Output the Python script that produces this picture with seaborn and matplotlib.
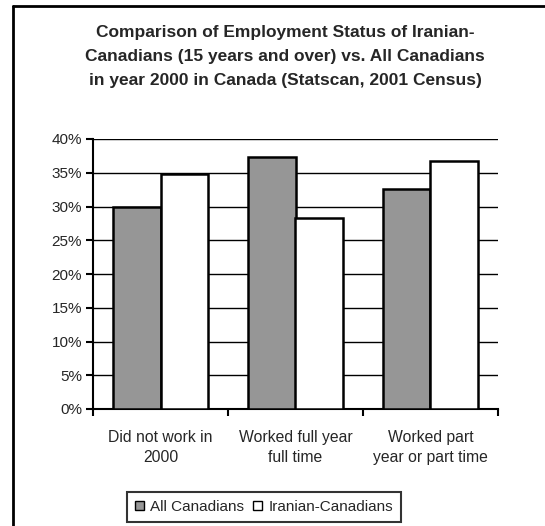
import numpy as np
import pandas as pd
import matplotlib
matplotlib.use("Agg")
import matplotlib.pyplot as plt
import seaborn as sns
from matplotlib.lines import Line2D

# Dados
categorias = ["Did not work in\n2000", "Worked full year\nfull time", "Worked part\nyear or part time"]
todos_canadenses = [30.0, 37.3, 32.6]
irano_canadenses = [34.8, 28.3, 36.7]
grupos = ["All Canadians", "Iranian-Canadians"]

df = pd.DataFrame({
    "categoria": categorias * 2,
    "grupo": [grupos[0]] * 3 + [grupos[1]] * 3,
    "valor": todos_canadenses + irano_canadenses,
})

sns.set_style("white")
plt.rcParams["font.family"] = ["Liberation Sans", "DejaVu Sans"]

fig = plt.figure(figsize=(5.45, 5.26), dpi=100)
ax = fig.add_axes([93 / 545, 1 - 409 / 526, 405 / 545, 270 / 526])

sns.barplot(data=df, x="categoria", y="valor", hue="grupo", ax=ax,
            palette={"All Canadians": "#969696", "Iranian-Canadians": "white"},
            edgecolor="black", linewidth=1.8, width=0.7, legend=False, zorder=3)

ax.set_ylim(0, 40)
ax.set_xlim(-0.5, 2.5)
ax.set_yticks(np.arange(0, 41, 5))
ax.set_yticklabels([f"{v}%" for v in range(0, 41, 5)])
ax.yaxis.grid(True, color="black", linewidth=1.0, zorder=0)
ax.set_axisbelow(True)

ax.set_xticks([-0.5, 0.5, 1.5, 2.5])
ax.set_xticklabels([])
ax.set_xticks([0, 1, 2], minor=True)
ax.set_xticklabels(categorias, minor=True, fontsize=11.3, linespacing=1.4)
ax.tick_params(axis="x", which="major", direction="out", length=5, width=1.5, color="black", bottom=True)
ax.tick_params(axis="x", which="minor", length=0, pad=15)
ax.tick_params(axis="y", direction="out", length=5, width=1.5, color="black", left=True, labelsize=11, pad=3)
ax.set_xlabel("")
ax.set_ylabel("")

for lado in ["top", "right"]:
    ax.spines[lado].set_visible(False)
for lado in ["left", "bottom"]:
    ax.spines[lado].set_color("black")
    ax.spines[lado].set_linewidth(1.5)

fig.text(285 / 545, 1 - 57 / 526,
         "Comparison of Employment Status of Iranian-\nCanadians (15 years and over) vs. All Canadians\nin year 2000 in Canada (Statscan, 2001 Census)",
         ha="center", va="center", fontsize=12.5, fontweight="bold", linespacing=1.75)

# Legenda
handles = [plt.Rectangle((0, 0), 1, 1, facecolor="#969696", edgecolor="black", linewidth=1),
           plt.Rectangle((0, 0), 1, 1, facecolor="white", edgecolor="black", linewidth=1)]
leg = fig.legend(handles, grupos, loc="center", bbox_to_anchor=(264 / 545, 1 - 507 / 526),
                 ncol=2, frameon=True, fancybox=False, fontsize=11,
                 handlelength=0.6, handleheight=0.6, handletextpad=0.4, columnspacing=0.6,
                 borderpad=0.5)
leg.get_frame().set_edgecolor("black")
leg.get_frame().set_linewidth(1.5)

# Moldura externa
fig.add_artist(Line2D([13 / 545, 1], [1 - 6 / 526, 1 - 6 / 526], color="black", linewidth=2))
fig.add_artist(Line2D([13 / 545, 13 / 545], [0, 1 - 6 / 526], color="black", linewidth=2))

fig.savefig("out.png", dpi=100)
